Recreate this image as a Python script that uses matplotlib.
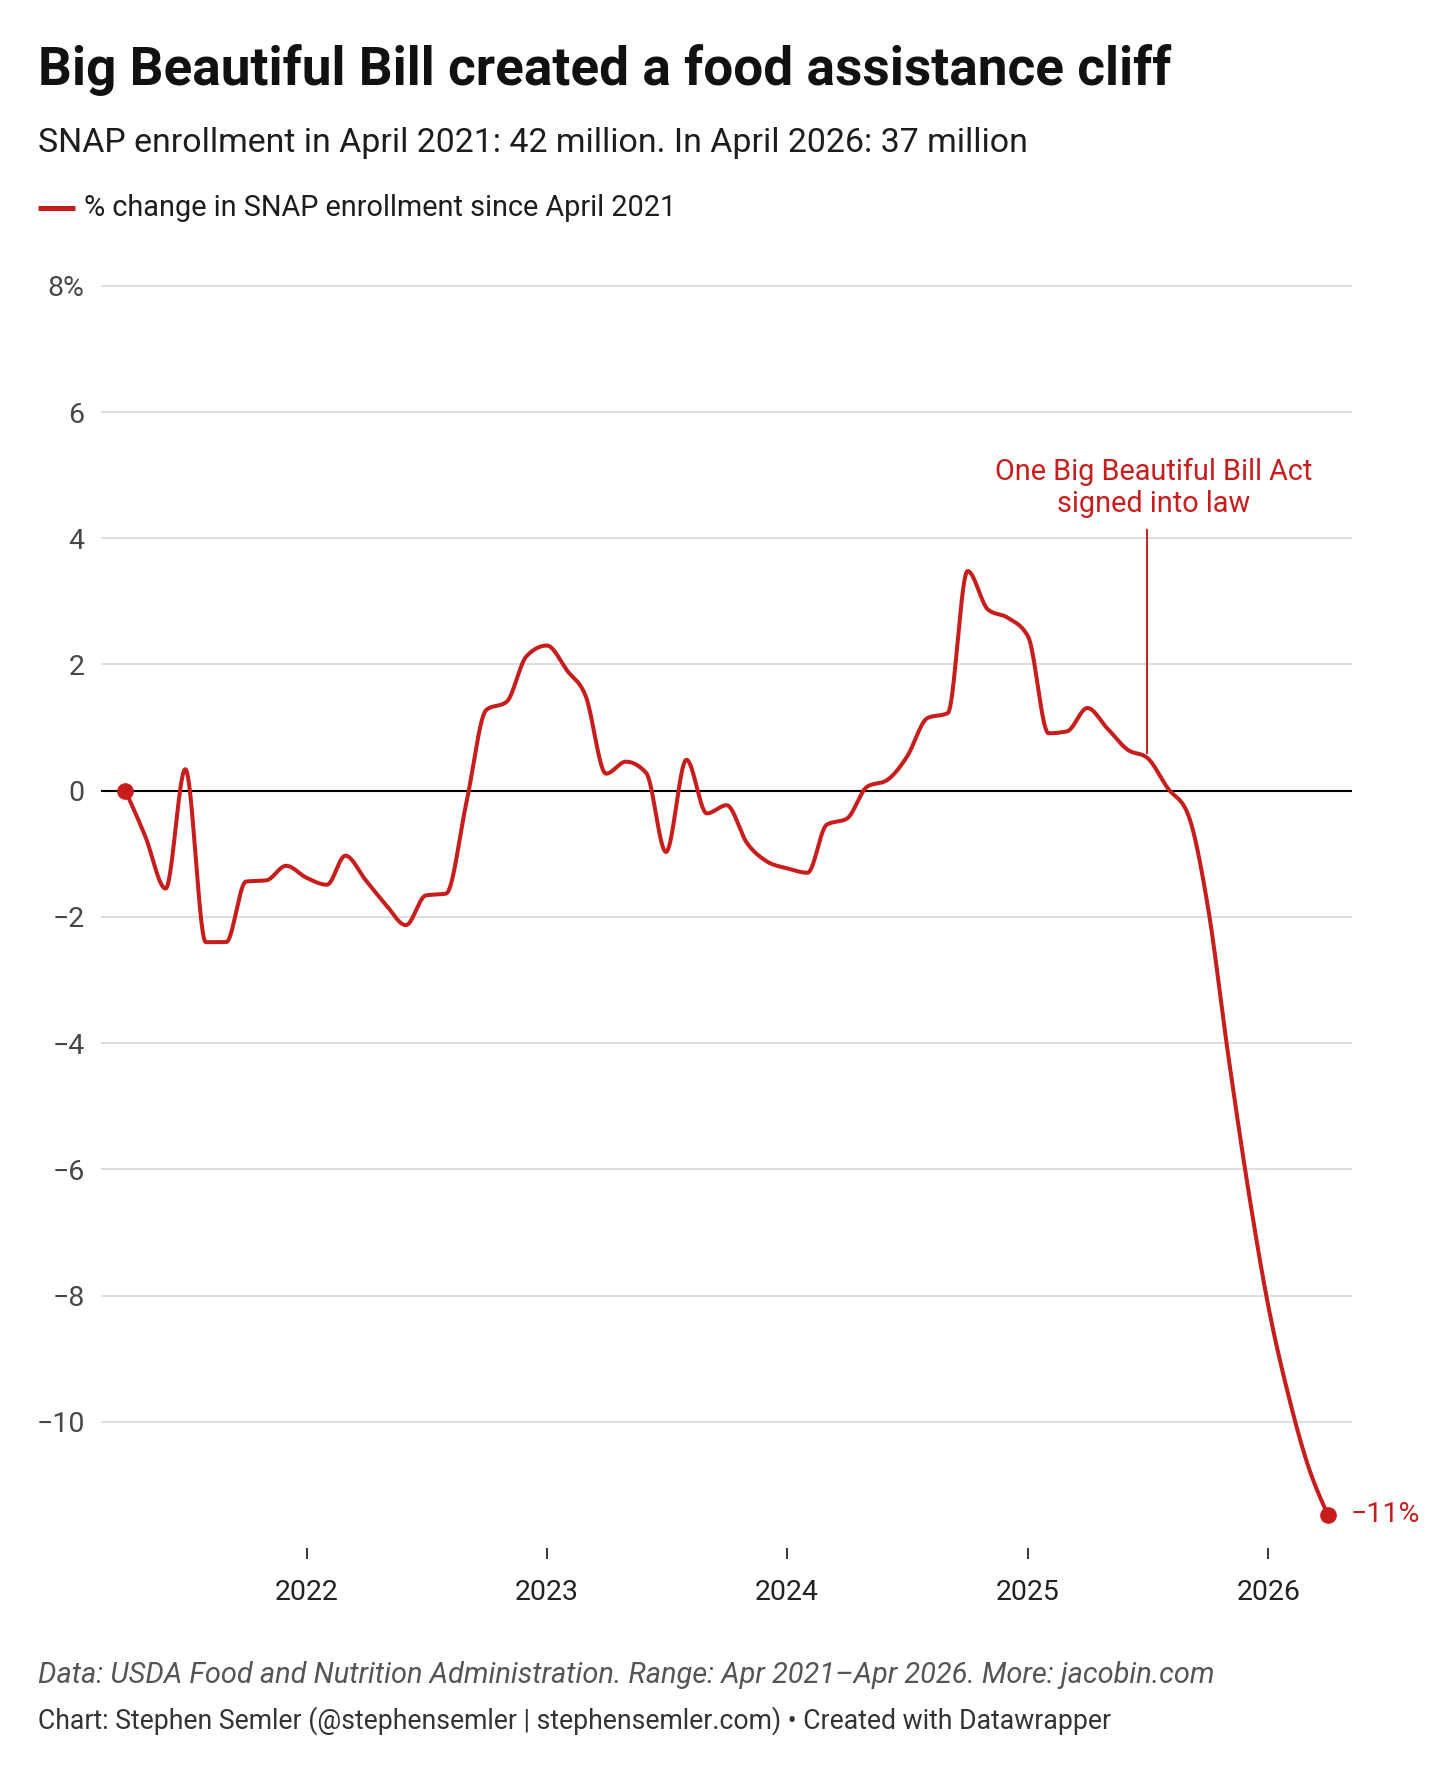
import numpy as np
import pandas as pd
import matplotlib
matplotlib.use("Agg")
import matplotlib.pyplot as plt
import matplotlib.dates as mdates
from matplotlib.lines import Line2D

# ---------------- data ----------------
months = pd.date_range("2021-04-01", "2026-04-01", freq="MS")
pct_change = [
    0.00, -0.72, -1.55, 0.34, -2.40, -2.40, -1.44, -1.42, -1.19,      # Apr21-Dec21
    -1.38, -1.49, -1.03, -1.42, -1.80, -2.13, -1.66, -1.63, -0.18,    # Jan22-Sep22
    1.28, 1.41, 2.13,                                                  # Oct22-Dec22
    2.30, 1.90, 1.50, 0.27, 0.46, 0.28, -0.97, 0.49, -0.36,           # Jan23-Sep23
    -0.23, -0.83, -1.12,                                               # Oct23-Dec23
    -1.23, -1.30, -0.54, -0.44, 0.06, 0.17, 0.54, 1.15, 1.23,         # Jan24-Sep24
    3.48, 2.87, 2.74,                                                  # Oct24-Dec24
    2.44, 0.91, 0.94, 1.31, 0.99, 0.65, 0.52, 0.04, -0.38,            # Jan25-Sep25
    -1.84, -4.20, -6.30,                                               # Oct25-Dec25
    -8.18, -9.61, -10.66, -11.47,                                      # Jan26-Apr26
]
year_ticks = pd.to_datetime(["2022-01-01", "2023-01-01", "2024-01-01", "2025-01-01", "2026-01-01"])
year_labels = ["2022", "2023", "2024", "2025", "2026"]
y_ticks = [8, 6, 4, 2, 0, -2, -4, -6, -8, -10]
y_labels = ["8%", "6", "4", "2", "0", "\u22122", "\u22124", "\u22126", "\u22128", "\u221210"]
law_date = pd.Timestamp("2025-07-01")
end_label = "\u221211%"

title = "Big Beautiful Bill created a food assistance cliff"
subtitle = "SNAP enrollment in April 2021: 42 million. In April 2026: 37 million"
legend_label = "% change in SNAP enrollment since April 2021"
annot_lines = ["One Big Beautiful Bill Act", "signed into law"]
footer1 = "Data: USDA Food and Nutrition Administration. Range: Apr 2021\u2013Apr 2026. More: jacobin.com"
footer2 = "Chart: Stephen Semler (@stephensemler | stephensemler.com) \u2022 Created with Datawrapper"

RED = "#c71e1d"

# ---------------- helpers ----------------
def monotone_x(x, y, n=40):
    x = np.asarray(x, float)
    y = np.asarray(y, float)
    h = np.diff(x)
    s = np.diff(y) / h
    m = np.zeros_like(y)
    for i in range(1, len(x) - 1):
        h0, h1 = h[i - 1], h[i]
        s0, s1 = s[i - 1], s[i]
        p = (s0 * h1 + s1 * h0) / (h0 + h1)
        m[i] = (np.sign(s0) + np.sign(s1)) * min(abs(s0), abs(s1), 0.5 * abs(p))
    m[0] = (3 * s[0] - m[1]) / 2
    m[-1] = (3 * s[-1] - m[-2]) / 2
    xs, ys = [], []
    t = np.linspace(0, 1, n, endpoint=False)
    h00 = 2 * t**3 - 3 * t**2 + 1
    h10 = t**3 - 2 * t**2 + t
    h01 = -2 * t**3 + 3 * t**2
    h11 = t**3 - t**2
    for i in range(len(x) - 1):
        xs.append(x[i] + t * h[i])
        ys.append(h00 * y[i] + h10 * h[i] * m[i] + h01 * y[i + 1] + h11 * h[i] * m[i + 1])
    xs.append([x[-1]])
    ys.append([y[-1]])
    return np.concatenate(xs), np.concatenate(ys)

W, H, DPI = 1456, 1771, 100
plt.rcParams["font.family"] = ["Roboto", "DejaVu Sans"]

fig = plt.figure(figsize=(W / DPI, H / DPI), dpi=DPI)
fig.patch.set_facecolor("white")
renderer = fig.canvas.get_renderer()

def fx(px):
    return px / W

def fy(py):
    return 1 - py / H

def fit_text(x, y, s, target_w, size, **kw):
    t = fig.text(fx(x), fy(y), s, fontsize=size, va="baseline", **kw)
    w = t.get_window_extent(renderer).width
    t.set_fontsize(size * target_w / w)
    return t

# ---------------- axes ----------------
unit = 63.11
zero_px = 790.7
y_top, y_bot = 8.05, -12.0
ax_left, ax_right = 100.7, 1351.7
ax_top = zero_px - y_top * unit
ax_bottom = zero_px - y_bot * unit
ax = fig.add_axes([fx(ax_left), fy(ax_bottom), (ax_right - ax_left) / W, (ax_bottom - ax_top) / H])
ax.set_facecolor("none")

xnum = mdates.date2num(months.to_pydatetime())
ax.set_xlim(xnum[0] - 37.6, xnum[-1] + 36.4)
ax.set_ylim(y_bot, y_top)

for yt in y_ticks:
    if yt == 0:
        ax.axhline(0, color="black", lw=1.5, zorder=2)
    else:
        ax.axhline(yt, color="#d4d4d4", lw=1.1, zorder=1)

ax.set_yticks(y_ticks)
ax.set_yticklabels(y_labels)
ax.tick_params(axis="y", length=0, pad=11.5, labelsize=20.5, labelcolor="#474747")

ax.set_xticks(mdates.date2num(year_ticks.to_pydatetime()))
ax.set_xticklabels(year_labels)
ax.tick_params(axis="x", length=8, width=1.1, color="black", pad=14, labelsize=20.5,
               labelcolor="#222222")
for sp in ax.spines.values():
    sp.set_visible(False)

# curve
cx, cy = monotone_x(xnum, pct_change)
ax.plot(cx, cy, color=RED, lw=2.9, solid_capstyle="round", solid_joinstyle="round",
        zorder=4, clip_on=False)
ax.plot([xnum[0], xnum[-1]], [pct_change[0], pct_change[-1]], "o", color=RED, ms=11,
        zorder=5, clip_on=False)

# annotation line
lx = mdates.date2num(law_date.to_pydatetime())
ax.plot([lx, lx], [0.60, 4.13], color=RED, lw=1.4, zorder=3)

# ---------------- texts ----------------
fit_text(37.5, 85, title, 1134, 38, fontweight="bold", color="#111111")
fit_text(37.5, 152, subtitle, 991, 22, color="#1d1d1d")

fig.add_artist(Line2D([fx(37.5), fx(75)], [fy(208), fy(208)], color=RED, lw=3.6,
                      solid_capstyle="butt"))
fit_text(84, 216.5, legend_label, 594, 18.5, color="#1d1d1d")

a1 = fit_text(1154, 480, annot_lines[0], 318, 20, color=RED, ha="center")
fig.text(fx(1154), fy(511.7), annot_lines[1], fontsize=a1.get_fontsize(), color=RED,
         ha="center", va="baseline")

fig.text(fx(1350.7), fy(1521.5), end_label, fontsize=20.5, color=RED, va="baseline")

fit_text(37.5, 1683.3, footer1, 1180, 18.5, color="#555555", fontstyle="italic")
fit_text(37.5, 1728.3, footer2, 1074, 18.5, color="#333333")

fig.savefig("out.png", dpi=DPI, facecolor="white")
